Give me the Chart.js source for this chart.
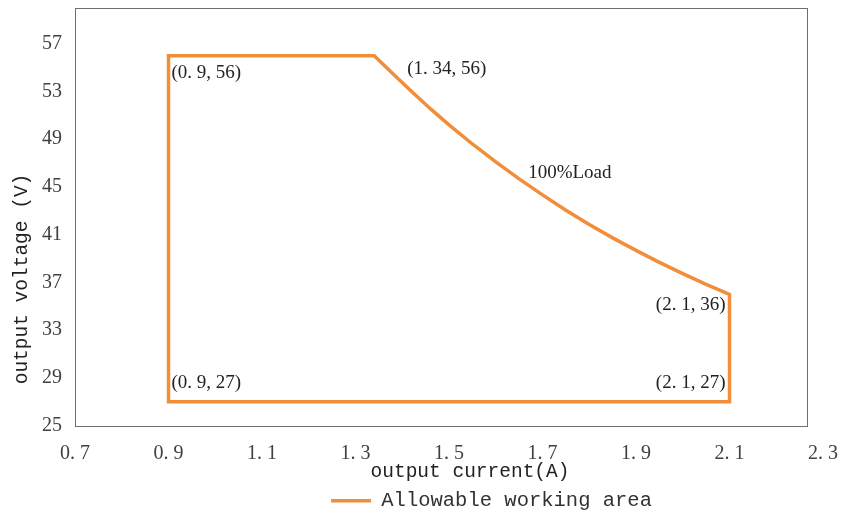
<!DOCTYPE html>
<html>
<head>
<meta charset="utf-8">
<script src="https://cdn.jsdelivr.net/npm/chart.js@4"></script>
<style>
  body { margin: 0; background: #fff; }
  #wrap { width: 842px; height: 513px; }
</style>
</head>
<body>
<div id="wrap"><canvas id="myChart"></canvas></div>
<script>
// boundary of the working area, walked round from the bottom left corner
const currentA = [0.9, 0.9, 1.34, 1.38, 1.42, 1.46, 1.50, 1.55, 1.60, 1.65, 1.70, 1.75, 1.80, 1.85, 1.90, 1.95, 2.00, 2.05, 2.1, 2.1, 0.9];
const voltageV = [27, 56, 56, 54.48, 53.0, 51.56, 50.2, 48.6, 47.1, 45.68, 44.33, 43.05, 41.85, 40.73, 39.68, 38.68, 37.73, 36.83, 36, 27, 27];

const xTicks = [0.7, 0.9, 1.1, 1.3, 1.5, 1.7, 1.9, 2.1, 2.3];
const yTicks = [25, 29, 33, 37, 41, 45, 49, 53, 57];

// text notes placed next to the corners
const noteText = ['(0. 9, 56)', '(1. 34, 56)', '100%Load', '(2. 1, 36)', '(0. 9, 27)', '(2. 1, 27)'];
const noteX = [0.9, 1.34, 1.665, 2.1, 0.9, 2.1];
const noteY = [56, 56, 46.2, 36, 27, 27];

const orange = 'rgb(242,142,58)';
const serif = 'Liberation Serif';
const mono = 'Liberation Mono';

const points = [];
for (let i = 0; i < currentA.length; i++) {
  points.push({ x: currentA[i], y: voltageV[i] });
}

// pixel nudges for each note: [dx, dy, align]
const noteOffsets = [
  [3, 17, 'left'],
  [33, 13, 'left'],
  [2, 0, 'left'],
  [-4, 11, 'right'],
  [3, -19, 'left'],
  [-4, -19, 'right']
];

const extras = {
  id: 'extras',
  afterLayout(chart) {
    // legend sits right of centre in the original
    const lg = chart.legend;
    lg.left += 80; lg.right += 80;
    lg.top += 8; lg.bottom += 8;
  },
  beforeDatasetsDraw(chart) {
    const ctx = chart.ctx;
    const a = chart.chartArea;
    const x = chart.scales.x;
    ctx.save();
    ctx.strokeStyle = '#6e6e6e';
    ctx.lineWidth = 1;
    const right = Math.round(x.getPixelForValue(2.266));
    ctx.strokeRect(Math.round(a.left) + 0.5, Math.round(a.top) + 0.5, right - Math.round(a.left), Math.round(a.bottom - a.top));
    ctx.restore();
  },
  afterDatasetsDraw(chart) {
    const ctx = chart.ctx;
    const a = chart.chartArea;
    const x = chart.scales.x;
    const y = chart.scales.y;
    ctx.save();
    ctx.fillStyle = '#222';
    ctx.textBaseline = 'middle';
    ctx.font = '19px "' + serif + '"';
    for (let i = 0; i < noteText.length; i++) {
      const off = noteOffsets[i];
      ctx.textAlign = off[2];
      ctx.fillText(noteText[i], x.getPixelForValue(noteX[i]) + off[0], y.getPixelForValue(noteY[i]) + off[1]);
    }

    // axis titles
    ctx.font = '19.5px "' + mono + '"';
    ctx.textAlign = 'center';
    ctx.fillText('output current(A)', a.left + 395, a.bottom + 46);
    ctx.translate(22, a.top + 271);
    ctx.rotate(-Math.PI / 2);
    ctx.fillText('output voltage (V)', 0, 0);
    ctx.restore();
  }
};

const ctx = document.getElementById('myChart');

new Chart(ctx, {
  type: 'line',
  data: {
    datasets: [{
      label: 'Allowable working area',
      data: points,
      borderColor: orange,
      backgroundColor: orange,
      borderWidth: 3.5,
      borderJoinStyle: 'miter',
      borderCapStyle: 'square',
      pointRadius: 0,
      tension: 0,
      fill: false
    }]
  },
  options: {
    responsive: true,
    maintainAspectRatio: false,
    animation: false,
    layout: { padding: { top: 8, right: 19, left: 0, bottom: 0 } },
    plugins: {
      legend: {
        position: 'bottom',
        labels: {
          usePointStyle: true,
          pointStyle: 'line',
          pointStyleWidth: 40,
          padding: 4,
          color: '#333',
          font: { family: mono, size: 20.5 }
        }
      },
      tooltip: { enabled: false }
    },
    scales: {
      x: {
        type: 'linear',
        min: 0.7,
        max: 2.3,
        afterBuildTicks: s => { s.ticks = xTicks.map(v => ({ value: v })); },
        afterFit: s => { s.height = 53; s.paddingLeft = 0; s.paddingRight = 0; },
        grid: { display: false, drawTicks: false },
        border: { display: false },
        ticks: {
          autoSkip: false,
          maxRotation: 0,
          padding: 16,
          color: '#404040',
          font: { family: serif, size: 20 },
          callback: v => v.toFixed(1).replace('.', '. ')
        }
      },
      y: {
        min: 25,
        max: 60,
        afterBuildTicks: s => { s.ticks = yTicks.map(v => ({ value: v })); },
        afterFit: s => { s.width = 75; s.paddingTop = 0; s.paddingBottom = 0; },
        grid: { display: false, drawTicks: false },
        border: { display: false },
        ticks: {
          padding: 13,
          color: '#404040',
          font: { family: serif, size: 20 }
        }
      }
    }
  },
  plugins: [extras]
});
</script>
</body>
</html>
